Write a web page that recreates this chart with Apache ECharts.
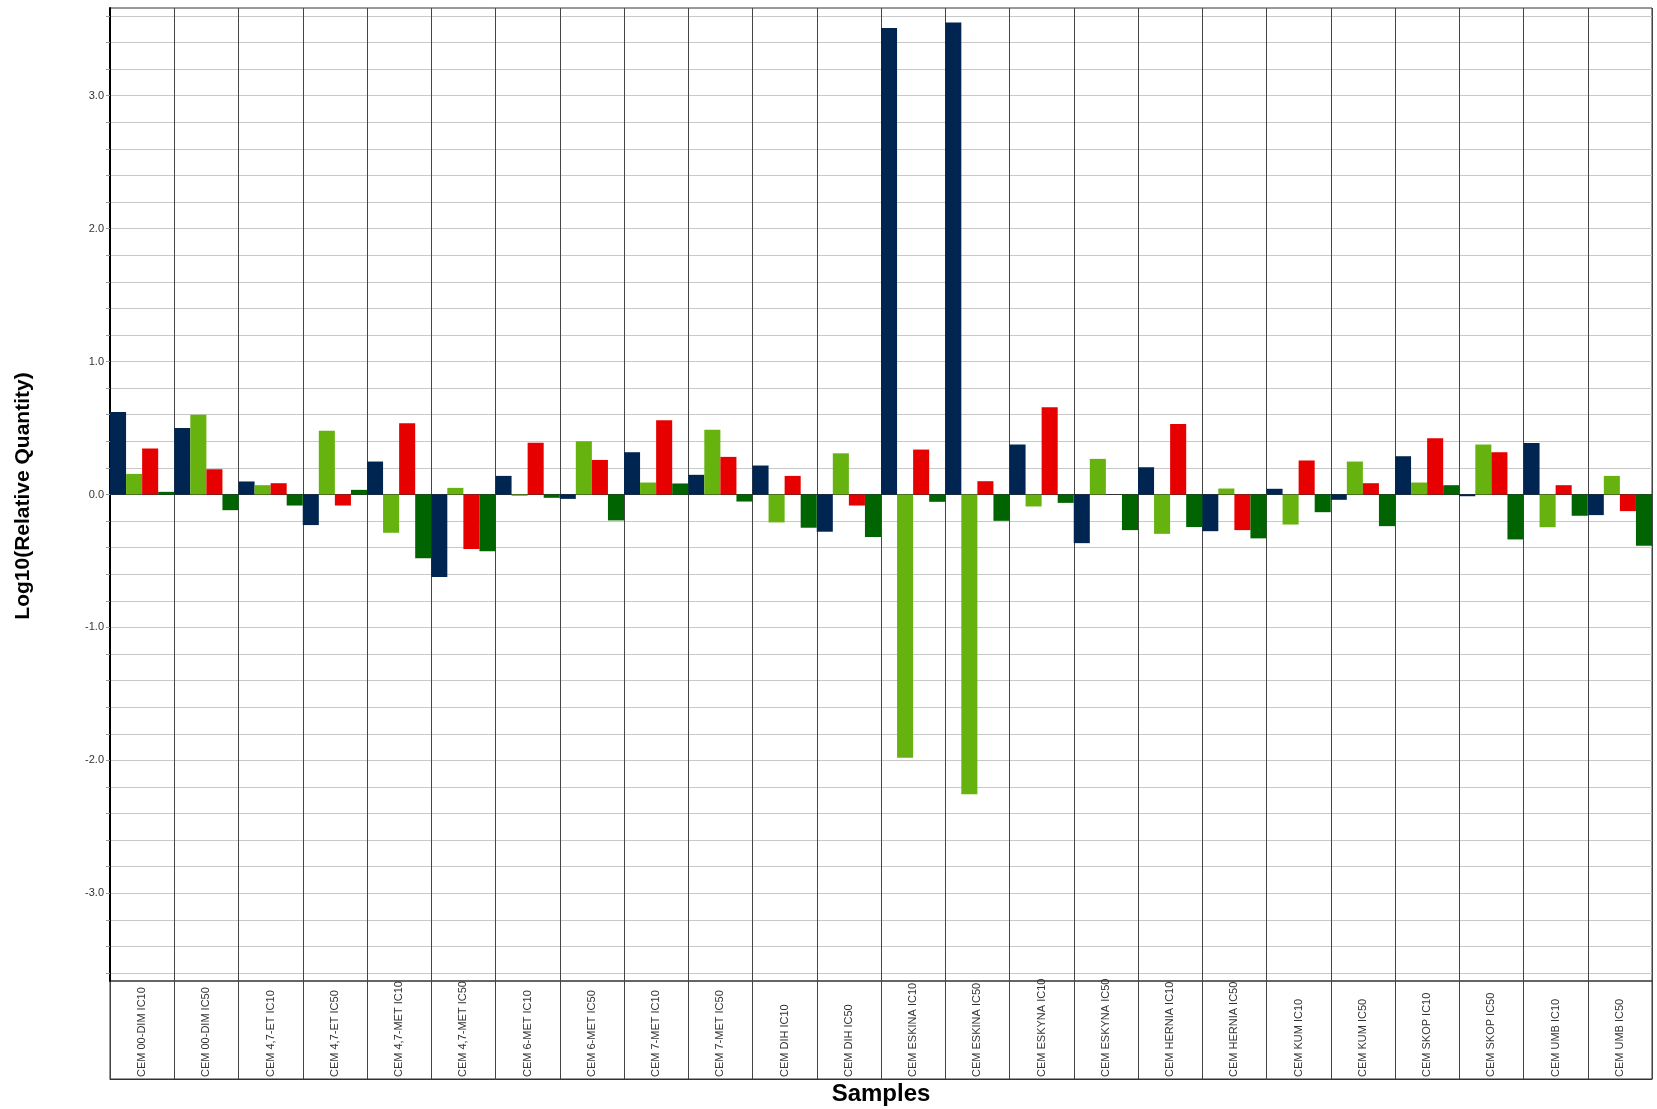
<!DOCTYPE html>
<html>
<head>
<meta charset="utf-8">
<script src="https://cdn.jsdelivr.net/npm/echarts@6/dist/echarts.min.js"></script>
<style>html,body{margin:0;padding:0;background:#fff;}#c{width:1657px;height:1109px;}</style>
</head>
<body>
<div id="c"></div>
<script>
const categories = ['CEM 00-DIM IC10','CEM 00-DIM IC50','CEM 4,7-ET IC10','CEM 4,7-ET IC50','CEM 4,7-MET IC10','CEM 4,7-MET IC50','CEM 6-MET IC10','CEM 6-MET IC50','CEM 7-MET IC10','CEM 7-MET IC50','CEM DIH IC10','CEM DIH IC50','CEM ESKINA IC10','CEM ESKINA IC50','CEM ESKYNA IC10','CEM ESKYNA IC50','CEM HERNIA IC10','CEM HERNIA IC50','CEM KUM IC10','CEM KUM IC50','CEM SKOP IC10','CEM SKOP IC50','CEM UMB IC10','CEM UMB IC50'];
const seriesNavy = [0.62,0.50,0.098,-0.23,0.248,-0.62,0.14,-0.033,0.318,0.148,0.218,-0.28,3.51,3.55,0.376,-0.366,0.205,-0.276,0.043,-0.04,0.288,-0.013,0.388,-0.155];
const seriesLightGreen = [0.155,0.60,0.07,0.48,-0.288,0.05,-0.01,0.40,0.09,0.488,-0.21,0.31,-1.98,-2.255,-0.09,0.268,-0.296,0.045,-0.226,0.248,0.09,0.376,-0.246,0.14];
const seriesRed = [0.346,0.19,0.085,-0.083,0.536,-0.41,0.39,0.26,0.558,0.283,0.14,-0.083,0.338,0.10,0.657,0,0.53,-0.268,0.256,0.085,0.424,0.318,0.07,-0.125];
const seriesDarkGreen = [0.02,-0.118,-0.083,0.035,-0.479,-0.426,-0.025,-0.195,0.083,-0.053,-0.25,-0.32,-0.055,-0.198,-0.063,-0.268,-0.245,-0.33,-0.133,-0.238,0.07,-0.338,-0.16,-0.386];
const gridValues = [-3.6,-3.4,-3.2,-3.0,-2.8,-2.6,-2.4,-2.2,-2.0,-1.8,-1.6,-1.4,-1.2,-1.0,-0.8,-0.6,-0.4,-0.2,0,0.2,0.4,0.6,0.8,1.0,1.2,1.4,1.6,1.8,2.0,2.2,2.4,2.6,2.8,3.0,3.2,3.4,3.6];
const labelValues = [-3,-2,-1,0,1,2,3];

const chart = echarts.init(document.getElementById('c'), null, {renderer:'canvas'});
const mk = (name, data, color) => ({
  name, type:'bar', data, xAxisIndex:0, yAxisIndex:0,
  barGap:'0%', barCategoryGap:'0%',
  itemStyle:{color}, emphasis:{disabled:true}
});
chart.setOption({
  animation:false,
  backgroundColor:'#fff',
  grid:[
    {left:110, right:5, top:8, bottom:128, show:true, borderColor:'#333', borderWidth:1},
    {left:110, right:5, top:981, height:98, show:true, borderColor:'#333', borderWidth:1}
  ],
  graphic:[
    {type:'text', x:881, y:1094, style:{text:'Samples', font:'bold 24px "Liberation Sans", Arial, sans-serif', fill:'#000', align:'center', verticalAlign:'middle'}},
    {type:'text', x:23, y:496, rotation:Math.PI/2, style:{text:'Log10(Relative Quantity)', font:'bold 21px "Liberation Sans", Arial, sans-serif', fill:'#000', align:'center', verticalAlign:'middle'}}
  ],
  xAxis:[{
    gridIndex:0, type:'category', data:categories, position:'bottom', boundaryGap:true,
    axisLine:{show:true, lineStyle:{color:'#333', width:1}},
    axisTick:{show:false},
    splitLine:{show:true, lineStyle:{color:'#444', width:1}},
    axisLabel:{show:true, interval:0, rotate:90, align:'left', verticalAlign:'middle', margin:96,
      color:'#333', fontSize:11, fontFamily:'"Liberation Sans", Arial, sans-serif'}
  },{
    gridIndex:1, type:'category', data:categories, position:'bottom', boundaryGap:true,
    axisLine:{show:true, lineStyle:{color:'#333', width:1}},
    axisTick:{show:false}, axisLabel:{show:false},
    splitLine:{show:true, interval:0, lineStyle:{color:'#444', width:1}}
  }],
  yAxis:[{
    gridIndex:0, type:'value', min:-3.66, max:3.66,
    axisLine:{show:true, lineStyle:{color:'#000', width:2}},
    axisTick:{show:true, length:4, customValues:gridValues, lineStyle:{color:'#999'}},
    splitLine:{show:true, lineStyle:{color:'#c8c8c8', width:1}},
    axisLabel:{show:true, customValues:labelValues, margin:6, color:'#333', fontSize:11,
      fontFamily:'"Liberation Sans", Arial, sans-serif', formatter:v=>v.toFixed(1)}
  },{
    gridIndex:1, type:'value', min:0, max:1,
    axisLine:{show:false}, axisTick:{show:false}, axisLabel:{show:false}, splitLine:{show:false}
  }],
  series:[
    mk('navy', seriesNavy, '#002550'),
    mk('lightgreen', seriesLightGreen, '#66b30f'),
    mk('red', seriesRed, '#e60000'),
    mk('darkgreen', seriesDarkGreen, '#006400')
  ]
});
</script>
</body>
</html>
